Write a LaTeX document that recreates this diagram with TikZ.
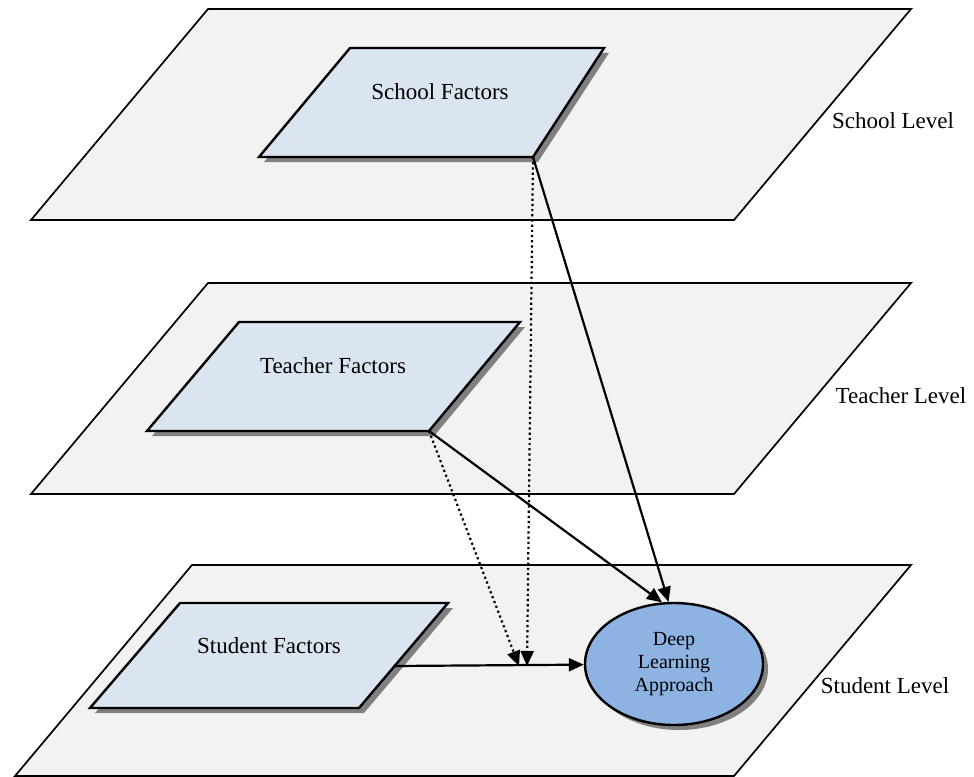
\documentclass[tikz,border=0pt]{standalone}
\usepackage{fontspec}
\setmainfont{Liberation Serif}
\usetikzlibrary{arrows.meta,shapes.geometric}

\definecolor{planegray}{HTML}{F2F2F2}
\definecolor{factorblue}{HTML}{DBE5F1}
\definecolor{dlablue}{HTML}{8DB3E2}

\begin{document}
\begin{tikzpicture}[x=1pt,y=-1pt,
  plane/.style={draw,line width=1.7pt,fill=planegray},
  factor/.style={draw,line width=2.4pt,fill=factorblue},
  shade/.style={fill=black!50},
  lbl/.style={font=\fontsize{23}{27}\selectfont},
  link/.style={line width=2.2pt,-{Triangle[length=15pt,width=13pt]}},
  modlink/.style={link,dash pattern=on 2.2pt off 3pt}]
\useasboundingbox (0,0) rectangle (974,776);

% the three levels
\draw[plane] (208,9) -- (911,9) -- (734,220) -- (31,220) -- cycle;
\node[lbl] (schoollvl) at (893,121) {School Level};

\draw[plane] (208,283) -- (911,283) -- (734,494) -- (31,494) -- cycle;
\node[lbl] (teacherlvl) at (901,396) {Teacher Level};

\draw[plane] (192,565) -- (911,565) -- (734,776) -- (15,776) -- cycle;
\node[lbl] (studentlvl) at (885,686) {Student Level};

% factor boxes, shadow first
\fill[shade] (355,53) -- (609,53) -- (538,162) -- (264,162) -- cycle;
\draw[factor] (350,48) -- (604,48) -- (533,157) coordinate (schoolcorner) -- (259,157) -- cycle;
\node[lbl] (school) at (440,92) {School Factors};

\fill[shade] (244,327) -- (525,327) -- (434,436) -- (152,436) -- cycle;
\draw[factor] (239,322) -- (520,322) -- (429,431) coordinate (teachercorner) -- (147,431) -- cycle;
\node[lbl] (teacher) at (333,366) {Teacher Factors};

\fill[shade] (185,608) -- (453,608) -- (364,713) -- (95,713) -- cycle;
\draw[factor] (180,603) -- (448,603) -- (359,708) -- (90,708) -- cycle;
\node[lbl] (student) at (269,646) {Student Factors};
\coordinate (studentout) at (394,666);

% outcome
\fill[shade] (679,669) ellipse [x radius=89, y radius=61];
\node[ellipse,draw,line width=2.4pt,fill=dlablue,minimum width=178pt,minimum height=122pt,
  align=center,inner sep=0pt,font=\fontsize{20}{23}\selectfont] (dla) at (674,664) {Deep\\Learning\\Approach};

% paths
\coordinate (modschool) at (527,666);
\coordinate (modteacher) at (519,666);

\draw[link] (studentout) -- (dla);
\draw[link] (schoolcorner) -- (dla.95);
\draw[link] (teachercorner) -- (dla.101);
\draw[modlink] (schoolcorner) -- (modschool);
\draw[modlink] (teachercorner) -- (modteacher);
\end{tikzpicture}
\end{document}
